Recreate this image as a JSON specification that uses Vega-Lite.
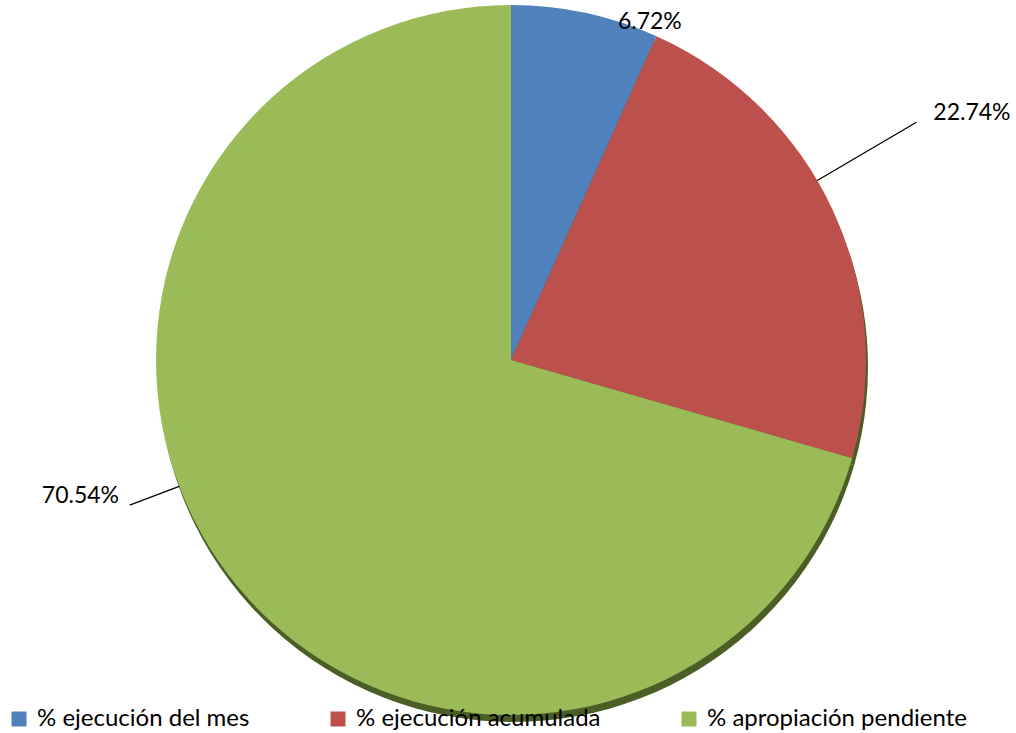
{
  "$schema": "https://vega.github.io/schema/vega-lite/v6.json",
  "width": 1022,
  "height": 720,
  "autosize": {"type": "none"},
  "padding": {"left": 0, "top": 0, "right": 0, "bottom": 13},
  "background": "white",
  "config": {"view": {"stroke": null}, "font": "Lato"},
  "data": {
    "values": [
      {"categoria": "% ejecución del mes", "valor": 0.0672},
      {"categoria": "% ejecución acumulada", "valor": 0.2274},
      {"categoria": "% apropiación pendiente", "valor": 0.7054}
    ]
  },
  "layer": [
    {
      "mark": {"type": "arc", "radius": 355, "color": "#4b5e26", "xOffset": 2, "yOffset": 7},
      "encoding": {
        "theta": {"field": "valor", "type": "quantitative", "stack": true, "scale": {"domain": [0, 1]}},
        "order": {"field": "valor", "type": "quantitative"}
      }
    },
    {
      "mark": {"type": "arc", "radius": 355},
      "encoding": {
        "theta": {"field": "valor", "type": "quantitative", "stack": true, "scale": {"domain": [0, 1]}},
        "order": {"field": "valor", "type": "quantitative"},
        "color": {
          "field": "categoria",
          "type": "nominal",
          "scale": {
            "domain": ["% ejecución del mes", "% ejecución acumulada", "% apropiación pendiente"],
            "range": ["#4f81bd", "#bc504d", "#9bbb59"]
          },
          "legend": {
            "title": null,
            "orient": "none",
            "legendX": 7,
            "legendY": 707,
            "direction": "horizontal",
            "symbolType": "square",
            "symbolSize": 225,
            "symbolStrokeWidth": 0,
            "symbolOpacity": 1,
            "labelFont": "Lato",
            "labelFontSize": 24,
            "labelColor": "black",
            "labelOffset": 6,
            "columnPadding": 76,
            "labelLimit": 500,
            "padding": 0
          }
        }
      }
    },
    {
      "transform": [{"filter": "datum.categoria === '% ejecución acumulada'"}],
      "mark": {"type": "arc", "radius": 470, "radius2": 355, "filled": false, "color": "black", "strokeWidth": 1.3},
      "encoding": {
        "theta": {"datum": 0.1656, "type": "quantitative"},
        "theta2": {"datum": 0.1656}
      }
    },
    {
      "transform": [{"filter": "datum.categoria === '% apropiación pendiente'"}],
      "mark": {"type": "arc", "radius": 408, "radius2": 355, "filled": false, "color": "black", "strokeWidth": 1.3},
      "encoding": {
        "theta": {"datum": 0.6921, "type": "quantitative"},
        "theta2": {"datum": 0.6921}
      }
    },
    {
      "transform": [{"filter": "datum.categoria === '% ejecución del mes'"}],
      "mark": {"type": "text", "radius": 365, "align": "center", "baseline": "middle", "fontSize": 23, "font": "Lato", "color": "black"},
      "encoding": {
        "theta": {"datum": 0.0621, "type": "quantitative"},
        "text": {"field": "valor", "type": "quantitative", "format": ".2%"}
      }
    },
    {
      "transform": [{"filter": "datum.categoria === '% ejecución acumulada'"}],
      "mark": {"type": "text", "radius": 489, "align": "left", "baseline": "middle", "fontSize": 23, "font": "Lato", "color": "black"},
      "encoding": {
        "theta": {"datum": 0.1659, "type": "quantitative"},
        "text": {"field": "valor", "type": "quantitative", "format": ".2%"}
      }
    },
    {
      "transform": [{"filter": "datum.categoria === '% apropiación pendiente'"}],
      "mark": {"type": "text", "radius": 415, "align": "right", "baseline": "middle", "fontSize": 23, "font": "Lato", "color": "black"},
      "encoding": {
        "theta": {"datum": 0.6967, "type": "quantitative"},
        "text": {"field": "valor", "type": "quantitative", "format": ".2%"}
      }
    }
  ]
}
